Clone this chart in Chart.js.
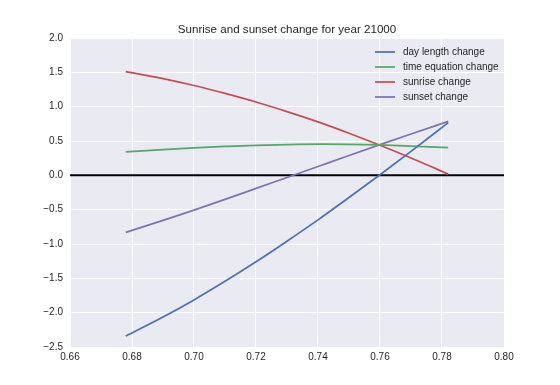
<!DOCTYPE html>
<html>
<head>
<meta charset="utf-8">
<script src="https://cdn.jsdelivr.net/npm/chart.js@4.4.0/dist/chart.umd.min.js"></script>
<style>
  html, body { margin: 0; padding: 0; background: #ffffff; }
  #wrap { width: 560px; height: 385px; }
</style>
</head>
<body>
<div id="wrap"><canvas id="chart" width="560" height="385"></canvas></div>
<script>
// ===================================
// Sunrise / sunset change chart data
// ===================================

const chartTitle     = 'Sunrise and sunset change for year 21000';
const xValues        = [0.678, 0.69, 0.70, 0.71, 0.72, 0.73, 0.74, 0.75, 0.76, 0.77, 0.782];
const dayLength      = [-2.34, -2.064, -1.814, -1.544, -1.259, -0.959, -0.649, -0.324, 0.009, 0.349, 0.767];
const timeEquation   = [0.34, 0.376, 0.401, 0.421, 0.438, 0.448, 0.453, 0.451, 0.442, 0.427, 0.402];
const sunriseChange  = [1.51, 1.408, 1.308, 1.193, 1.068, 0.928, 0.778, 0.613, 0.438, 0.253, 0.019];
const sunsetChange   = [-0.83, -0.656, -0.506, -0.351, -0.191, -0.031, 0.129, 0.289, 0.447, 0.602, 0.786];
const seriesNames    = ['day length change', 'time equation change', 'sunrise change', 'sunset change'];
const xTicks         = [0.66, 0.68, 0.70, 0.72, 0.74, 0.76, 0.78, 0.80];
const yTicks         = [-2.5, -2.0, -1.5, -1.0, -0.5, 0.0, 0.5, 1.0, 1.5, 2.0];

const colors = ['#4C72B0', '#55A868', '#C44E52', '#8172B2'];
const FONT = '"Liberation Sans", Arial, sans-serif';

const toPoints = ys => ys.map((y, i) => ({ x: xValues[i], y: y }));

// Plot background, zero line and title
const backgroundPlugin = {
    id: 'plotBackground',
    beforeDraw(chart) {
        const { ctx, chartArea: a } = chart;
        ctx.save();
        ctx.fillStyle = '#EAEAF2';
        ctx.fillRect(a.left, a.top, a.right - a.left, a.bottom - a.top);
        ctx.fillStyle = '#262626';
        ctx.font = '11.6px ' + FONT;
        ctx.textAlign = 'center';
        ctx.textBaseline = 'middle';
        ctx.fillText(chartTitle, (a.left + a.right) / 2, 30);
        ctx.restore();
    },
    beforeDatasetsDraw(chart) {
        const { ctx, chartArea: a, scales } = chart;
        const y0 = scales.y.getPixelForValue(0);
        ctx.save();
        ctx.strokeStyle = '#000000';
        ctx.lineWidth = 2;
        ctx.beginPath();
        ctx.moveTo(a.left, y0);
        ctx.lineTo(a.right, y0);
        ctx.stroke();
        ctx.restore();
    }
};

// Matplotlib-like legend in the upper right of the plot
const legendPlugin = {
    id: 'innerLegend',
    afterDraw(chart) {
        const { ctx, chartArea: a } = chart;
        const x0 = a.right - 129;
        const y0 = a.top + 14;
        ctx.save();
        ctx.font = '10px ' + FONT;
        ctx.textBaseline = 'middle';
        chart.data.datasets.forEach((ds, i) => {
            const y = y0 + i * 15;
            ctx.strokeStyle = ds.borderColor;
            ctx.lineWidth = 1.75;
            ctx.beginPath();
            ctx.moveTo(x0, y);
            ctx.lineTo(x0 + 20, y);
            ctx.stroke();
            ctx.fillStyle = '#262626';
            ctx.fillText(ds.label, x0 + 28, y);
        });
        ctx.restore();
    }
};

new Chart(document.getElementById('chart'), {
    type: 'scatter',
    data: {
        datasets: [dayLength, timeEquation, sunriseChange, sunsetChange].map((ys, i) => ({
            label: seriesNames[i],
            data: toPoints(ys),
            showLine: true,
            borderColor: colors[i],
            backgroundColor: colors[i],
            borderWidth: 1.75,
            pointRadius: 0,
            cubicInterpolationMode: 'monotone'
        }))
    },
    options: {
        responsive: false,
        animation: false,
        layout: { padding: { left: 0, right: 56, top: 38, bottom: 0 } },
        plugins: {
            legend: { display: false },
            tooltip: { enabled: false },
            title: { display: false }
        },
        scales: {
            x: {
                type: 'linear',
                min: 0.66,
                max: 0.80,
                afterBuildTicks: s => { s.ticks = xTicks.map(v => ({ value: v })); },
                afterFit: s => { s.height = 38; },
                border: { display: false },
                grid: { color: '#ffffff', lineWidth: 1, drawTicks: false },
                ticks: {
                    color: '#262626',
                    padding: 4,
                    font: { family: FONT, size: 10 },
                    callback: v => v.toFixed(2)
                }
            },
            y: {
                min: -2.5,
                max: 2.0,
                afterBuildTicks: s => { s.ticks = yTicks.map(v => ({ value: v })); },
                afterFit: s => { s.width = 70; },
                border: { display: false },
                grid: { color: '#ffffff', lineWidth: 1, drawTicks: false },
                ticks: {
                    color: '#262626',
                    padding: 7,
                    font: { family: FONT, size: 10 },
                    callback: v => v.toFixed(1).replace('-', '\u2212')
                }
            }
        }
    },
    plugins: [backgroundPlugin, legendPlugin]
});
</script>
</body>
</html>
